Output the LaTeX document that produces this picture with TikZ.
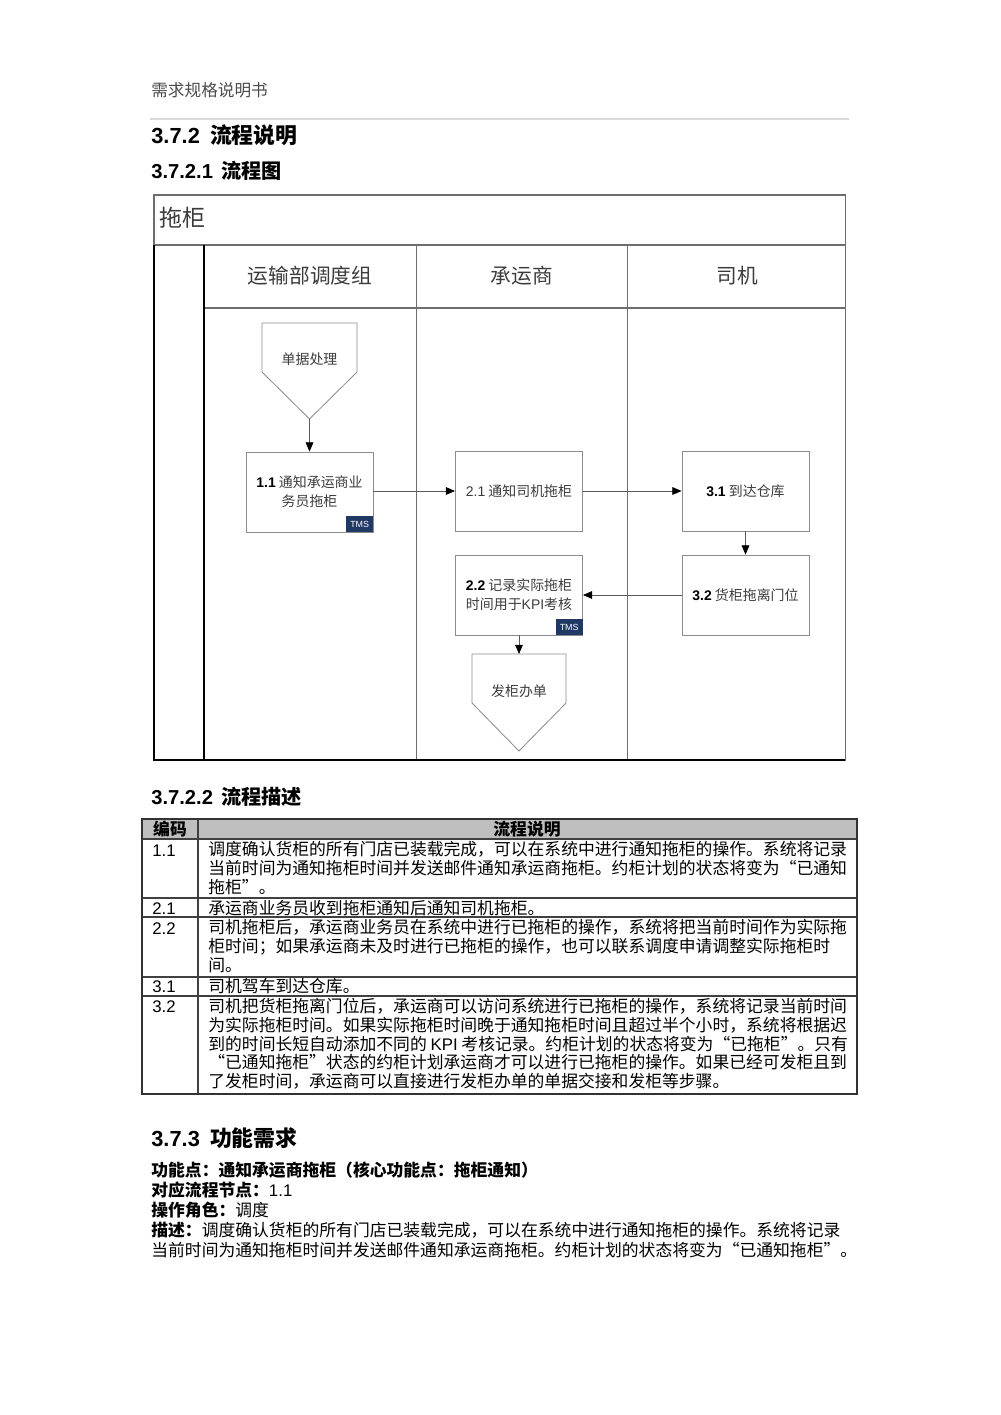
\documentclass[tikz,border=0pt]{standalone}
\usepackage{fontspec}
\setmainfont{Noto Sans CJK SC}
\newfontfamily\lat{Liberation Sans}
\newfontfamily\fwq{Noto Sans CJK SC}[RawFeature=+fwid]
\usetikzlibrary{arrows.meta}

\definecolor{tmsblue}{RGB}{31,56,100}
\definecolor{hdrgray}{RGB}{191,191,191}
\definecolor{boxgray}{RGB}{140,140,140}
\definecolor{lanegray}{RGB}{110,110,110}
\definecolor{txtgray}{RGB}{60,60,60}

\newcommand{\qo}{{\fwq “}}
\newcommand{\qc}{{\fwq ”}}

\tikzset{
  heading/.style={anchor=west, inner sep=0pt, font=\fontsize{13}{15}\selectfont},
  subheading/.style={anchor=west, inner sep=0pt, font=\fontsize{12}{14}\selectfont},
  lanehead/.style={text=txtgray, font=\fontsize{12.3}{14}\selectfont},
  flowbox/.style={draw=boxgray, line width=0.5pt, minimum width=75.6pt, minimum height=47.6pt,
    inner sep=0pt, align=center, text=txtgray, font=\fontsize{8.3}{11.3}\selectfont},
  docshape/.style={draw=boxgray, line width=0.5pt},
  doctext/.style={text=txtgray, font=\fontsize{8.3}{11.3}\selectfont},
  tmsbadge/.style={fill=tmsblue, anchor=south east, minimum width=16pt, minimum height=9.5pt,
    inner sep=0pt, text=white, font=\lat\fontsize{5.3}{6}\selectfont},
  flowarrow/.style={draw=black!65, line width=0.45pt, -{Triangle[length=5.5pt,width=4.6pt,color=black]}},
  tblline/.style={draw=black!75, line width=0.7pt},
  celltext/.style={anchor=base west, inner sep=0pt, align=left, font=\fontsize{10}{11.2}\selectfont},
  codetext/.style={anchor=base west, inner sep=0pt, font=\lat\fontsize{10}{11.2}\selectfont},
}

\begin{document}
\begin{tikzpicture}[x=0.595pt, y=-0.595pt]
\useasboundingbox (0,0) rectangle (1000,1415);

% page header
\node[anchor=west, inner sep=0pt, text=black!70, font=\fontsize{9.9}{12}\selectfont] (doctitle) at (151,90) {需求规格说明书};
\draw[black!15, line width=0.8pt] (150,119) -- (849,119);
\node[heading] (h372) at (151,135) {{\lat\bfseries 3.7.2}\hspace{6pt}\bfseries 流程说明};
\node[subheading] (h3721) at (151,171) {{\lat\bfseries 3.7.2.1}\hspace{5pt}\bfseries 流程图};

% swimlane frame
\draw[lanegray, line width=0.6pt] (154,195) rectangle (845,760);
\draw[lanegray, line width=0.6pt] (154,245) -- (845,245);
\draw[lanegray, line width=0.6pt] (204,308) -- (845,308);
\draw[lanegray, line width=0.6pt] (416,245) -- (416,760);
\draw[lanegray, line width=0.6pt] (627,245) -- (627,760);
\draw[black, line width=1.1pt] (154,245) -- (154,760) -- (845,760);
\draw[black, line width=1.1pt] (204,245) -- (204,760);
\node[anchor=west, inner sep=0pt, text=txtgray, font=\fontsize{13.7}{16}\selectfont] (pooltitle) at (159,218) {拖柜};
\node[lanehead] (lane1) at (310,276) {运输部调度组};
\node[lanehead] (lane2) at (522,276) {承运商};
\node[lanehead] (lane3) at (737,276) {司机};

% off-page shapes
\draw[docshape] (262,323) -- (357,323) -- (357,372) -- (309.5,419) -- (262,372) -- cycle;
\node[doctext] (doc1) at (309.5,359) {单据处理};
\coordinate (doc1tip) at (309.5,419);
\draw[docshape] (472,654) -- (566,654) -- (566,703) -- (519,751) -- (472,703) -- cycle;
\node[doctext] (doc2) at (519,691) {发柜办单};
\coordinate (doc2top) at (519,654);

% process boxes
\node[flowbox] (b11) at (309.5,492) {{\lat\bfseries\color{black}1.1} 通知承运商业\\务员拖柜};
\node[tmsbadge] (tms11) at (b11.south east) {TMS};
\node[flowbox] (b21) at (519,491) {{\lat 2.1} 通知司机拖柜};
\node[flowbox] (b31) at (745.5,491) {{\lat\bfseries\color{black}3.1} 到达仓库};
\node[flowbox] (b22) at (519,595) {{\lat\bfseries\color{black}2.2} 记录实际拖柜\\时间用于{\lat KPI}考核};
\node[tmsbadge] (tms22) at (b22.south east) {TMS};
\node[flowbox] (b32) at (745.5,595) {{\lat\bfseries\color{black}3.2} 货柜拖离门位};

% connectors
\draw[flowarrow] (doc1tip) -- (b11);
\draw[flowarrow] (b11.east |- b21) -- (b21);
\draw[flowarrow] (b21) -- (b31);
\draw[flowarrow] (b31) -- (b32);
\draw[flowarrow] (b32) -- (b22);
\draw[flowarrow] (b22) -- (doc2top);

% process description table (multi-line cells are placed by their last baseline)
\node[subheading] (h3722) at (151,797) {{\lat\bfseries 3.7.2.2}\hspace{5pt}\bfseries 流程描述};
\fill[hdrgray] (142,819) rectangle (857,839);
\foreach \yy in {839,898,917,977,996}
  \draw[tblline] (142,\yy) -- (857,\yy);
\draw[tblline] (198,819) -- (198,1094);
\draw[black!80, line width=1pt] (142,819) rectangle (857,1094);
\node[font=\bfseries\fontsize{10}{11}\selectfont] (colcode) at (170,829.5) {编码};
\node[font=\bfseries\fontsize{10}{11}\selectfont] (coldesc) at (527,829.5) {流程说明};

\node[codetext] (c11) at (152,856) {1.1};
\node[celltext] (d11) at (208,893.6) {调度确认货柜的所有门店已装载完成，可以在系统中进行通知拖柜的操作。系统将记录\\
当前时间为通知拖柜时间并发送邮件通知承运商拖柜。约柜计划的状态将变为\qo 已通知\\
拖柜\qc 。};
\node[codetext] (c21) at (152,914.5) {2.1};
\node[celltext] (d21) at (208,914.5) {承运商业务员收到拖柜通知后通知司机拖柜。};
\node[codetext] (c22) at (152,934) {2.2};
\node[celltext] (d22) at (208,971.6) {司机拖柜后，承运商业务员在系统中进行已拖柜的操作，系统将把当前时间作为实际拖\\
柜时间；如果承运商未及时进行已拖柜的操作，也可以联系调度申请调整实际拖柜时\\
间。};
\node[codetext] (c31) at (152,992.5) {3.1};
\node[celltext] (d31) at (208,992.5) {司机驾车到达仓库。};
\node[codetext] (c32) at (152,1012.5) {3.2};
\node[celltext] (d32) at (208,1087.7) {司机把货柜拖离门位后，承运商可以访问系统进行已拖柜的操作，系统将记录当前时间\\
为实际拖柜时间。如果实际拖柜时间晚于通知拖柜时间且超过半个小时，系统将根据迟\\
到的时间长短自动添加不同的 {\lat KPI} 考核记录。约柜计划的状态将变为\qo 已拖柜\qc 。只有\\
\qo 已通知拖柜\qc 状态的约柜计划承运商才可以进行已拖柜的操作。如果已经可发柜且到\\
了发柜时间，承运商可以直接进行发柜办单的单据交接和发柜等步骤。};

% functional requirement
\node[heading] (h373) at (151,1138) {{\lat\bfseries 3.7.3}\hspace{6pt}\bfseries 功能需求};
\node[anchor=base west, inner sep=0pt, align=left, font=\fontsize{10}{11.9}\selectfont] (funcdesc) at (151,1256.5)
{\textbf{功能点：通知承运商拖柜（核心功能点：拖柜通知）}\\
\textbf{对应流程节点：}{\lat 1.1}\\
\textbf{操作角色：}调度\\
\textbf{描述：}调度确认货柜的所有门店已装载完成，可以在系统中进行通知拖柜的操作。系统将记录\\
当前时间为通知拖柜时间并发送邮件通知承运商拖柜。约柜计划的状态将变为\qo 已通知拖柜\qc 。};
\end{tikzpicture}
\end{document}
